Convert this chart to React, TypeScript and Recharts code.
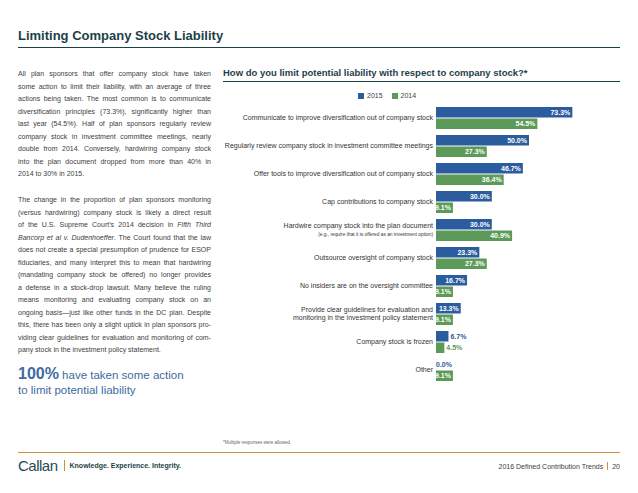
import React from "react";
import { Bar, BarChart, LabelList, XAxis, YAxis } from "recharts";

const categories = [
  "Communicate to improve diversification out of company stock",
  "Regularly review company stock in investment committee meetings",
  "Offer tools to improve diversification out of company stock",
  "Cap contributions to company stock",
  "Hardwire company stock into the plan document",
  "Outsource oversight of company stock",
  "No insiders are on the oversight committee",
  "Provide clear guidelines for evaluation and\nmonitoring in the investment policy statement",
  "Company stock is frozen",
  "Other",
];
const categoryNotes = ["", "", "", "", "(e.g., require that it is offered as an investment option)", "", "", "", "", ""];
const values2015 = [73.3, 50.0, 46.7, 30.0, 30.0, 23.3, 16.7, 13.3, 6.7, 0.0];
const values2014 = [54.5, 27.3, 36.4, 9.1, 40.9, 27.3, 9.1, 9.1, 4.5, 9.1];
const seriesNames = ["2015", "2014"];

const BLUE = "#2b5c9e";
const GREEN = "#5b9a58";
const DARK = "#1d3f47";
const TEXT = "#404040";
const SANS = "'Liberation Sans', Arial, sans-serif";

const data = categories.map((name, i) => ({ name, y2015: values2015[i], y2014: values2014[i] }));

const para1 = [
  "All plan sponsors that offer company stock have taken",
  "some action to limit their liability, with an average of three",
  "actions being taken. The most common is to communicate",
  "diversification principles (73.3%), significantly higher than",
  "last year (54.5%). Half of plan sponsors regularly review",
  "company stock in investment committee meetings, nearly",
  "double from 2014. Conversely, hardwiring company stock",
  "into the plan document dropped from more than 40% in",
  "2014 to 30% in 2015.",
];
const para2: React.ReactNode[] = [
  "The change in the proportion of plan sponsors monitoring",
  "(versus hardwiring) company stock is likely a direct result",
  <>of the U.S. Supreme Court’s 2014 decision in <i>Fifth Third</i></>,
  <><i>Bancorp et al v. Dudenhoeffer</i>. The Court found that the law</>,
  "does not create a special presumption of prudence for ESOP",
  "fiduciaries, and many interpret this to mean that hardwiring",
  "(mandating company stock be offered) no longer provides",
  "a defense in a stock-drop lawsuit. Many believe the ruling",
  "means monitoring and evaluating company stock on an",
  "ongoing basis—just like other funds in the DC plan. Despite",
  "this, there has been only a slight uptick in plan sponsors pro-",
  "viding clear guidelines for evaluation and monitoring of com-",
  "pany stock in the investment policy statement.",
];

function Paragraph({ lines, top }: { lines: React.ReactNode[]; top: number }) {
  return (
    <div style={{ position: "absolute", left: 18, top, width: 193 }}>
      {lines.map((l, i) => (
        <div
          key={i}
          style={{
            height: 12.5,
            lineHeight: "12.5px",
            fontSize: 7,
            color: TEXT,
            whiteSpace: "nowrap",
            textAlign: "justify",
            textAlignLast: i === lines.length - 1 ? "left" : "justify",
          }}
        >
          {l}
        </div>
      ))}
    </div>
  );
}

function CategoryTick(props: any) {
  const { x, y, payload } = props;
  const idx = categories.indexOf(payload.value);
  const lines: string[] = payload.value.split("\n");
  const note = categoryNotes[idx];
  const common = { textAnchor: "end" as const, fill: "#333", fontFamily: SANS };
  if (note) {
    return (
      <g>
        <text x={x} y={y - 4} dy="0.35em" fontSize={7} {...common}>{lines[0]}</text>
        <text x={x} y={y + 4.5} dy="0.35em" fontSize={4.8} {...common}>{note}</text>
      </g>
    );
  }
  if (lines.length > 1) {
    return (
      <g>
        {lines.map((l, i) => (
          <text key={i} x={x} y={y - 4 + i * 8} dy="0.35em" fontSize={7} {...common}>{l}</text>
        ))}
      </g>
    );
  }
  return <text x={x} y={y} dy="0.35em" fontSize={7} {...common}>{lines[0]}</text>;
}

function makeLabel(color: string) {
  return (props: any) => {
    const { x, y, width, height, value } = props;
    const text = `${Number(value).toFixed(1)}%`;
    const inside = width > 15;
    const outsideX = Number(value) === 0 ? x : x + width + 2;
    return (
      <text
        x={inside ? x + width - 2 : outsideX}
        y={y + height / 2}
        dy="0.35em"
        textAnchor={inside ? "end" : "start"}
        fontSize={7}
        fontWeight="bold"
        fontFamily={SANS}
        fill={inside ? "#fff" : color}
      >
        {text}
      </text>
    );
  };
}

export default function App() {
  return (
    <div style={{ position: "absolute", left: 0, top: 0, width: 638, height: 493, background: "#fff", fontFamily: SANS, overflow: "hidden" }}>
      <div style={{ position: "absolute", left: 18, top: 28, fontSize: 13, fontWeight: "bold", color: DARK }}>
        Limiting Company Stock Liability
      </div>
      <div style={{ position: "absolute", left: 18, top: 47, width: 602, height: 1, background: DARK }} />

      <Paragraph lines={para1} top={68} />
      <Paragraph lines={para2} top={194} />

      <div style={{ position: "absolute", left: 18, top: 366, color: "#3d6ba0", fontSize: 11.5, lineHeight: "15px" }}>
        <span style={{ fontSize: 16, fontWeight: "bold" }}>100%</span> have taken some action
        <br />
        to limit potential liability
      </div>

      <div style={{ position: "absolute", left: 223, top: 67, fontSize: 9.5, fontWeight: "bold", color: DARK }}>
        How do you limit potential liability with respect to company stock?*
      </div>
      <div style={{ position: "absolute", left: 223, top: 81, width: 397, height: 1, background: DARK }} />

      <div style={{ position: "absolute", left: 358, top: 92, display: "flex", alignItems: "center", fontSize: 7, color: TEXT }}>
        {seriesNames.map((s, i) => (
          <div key={s} style={{ display: "flex", alignItems: "center", marginRight: 9 }}>
            <div style={{ width: 6, height: 6, background: i === 0 ? BLUE : GREEN, marginRight: 3 }} />
            {s}
          </div>
        ))}
      </div>

      <div style={{ position: "absolute", left: 223, top: 88 }}>
        <BarChart width={400} height={300} data={data} layout="vertical" barSize={10.5} barGap={1}
          margin={{ top: 16, right: 1, bottom: 4, left: 0 }}>
          <XAxis type="number" domain={[0, 100]} hide />
          <YAxis type="category" dataKey="name" width={213} axisLine={false} tickLine={false}
            tickSize={0} tickMargin={3} interval={0} tick={<CategoryTick />} />
          <Bar dataKey="y2015" name={seriesNames[0]} fill={BLUE} minPointSize={0.1} isAnimationActive={false}>
            <LabelList dataKey="y2015" content={makeLabel(BLUE)} />
          </Bar>
          <Bar dataKey="y2014" name={seriesNames[1]} fill={GREEN} isAnimationActive={false}>
            <LabelList dataKey="y2014" content={makeLabel(GREEN)} />
          </Bar>
        </BarChart>
      </div>

      <div style={{ position: "absolute", left: 223, top: 440, fontSize: 4.5, color: "#666" }}>
        *Multiple responses were allowed.
      </div>
      <div style={{ position: "absolute", left: 18, top: 452, width: 602, height: 1, background: "#c9953f" }} />
      <div style={{ position: "absolute", left: 18, top: 457, display: "flex", alignItems: "center" }}>
        <span style={{ fontSize: 15, color: "#1f4a55", letterSpacing: -0.5 }}>Callan</span>
        <span style={{ width: 1, height: 11, background: "#c9953f", margin: "0 5px 0 6px" }} />
        <span style={{ fontSize: 7, fontWeight: "bold", color: DARK }}>Knowledge. Experience. Integrity.</span>
      </div>
      <div style={{ position: "absolute", right: 18, top: 462, fontSize: 7, color: TEXT, display: "flex", alignItems: "center" }}>
        2016 Defined Contribution Trends
        <span style={{ width: 1, height: 8, background: "#c9953f", margin: "0 4px" }} />
        20
      </div>
    </div>
  );
}
